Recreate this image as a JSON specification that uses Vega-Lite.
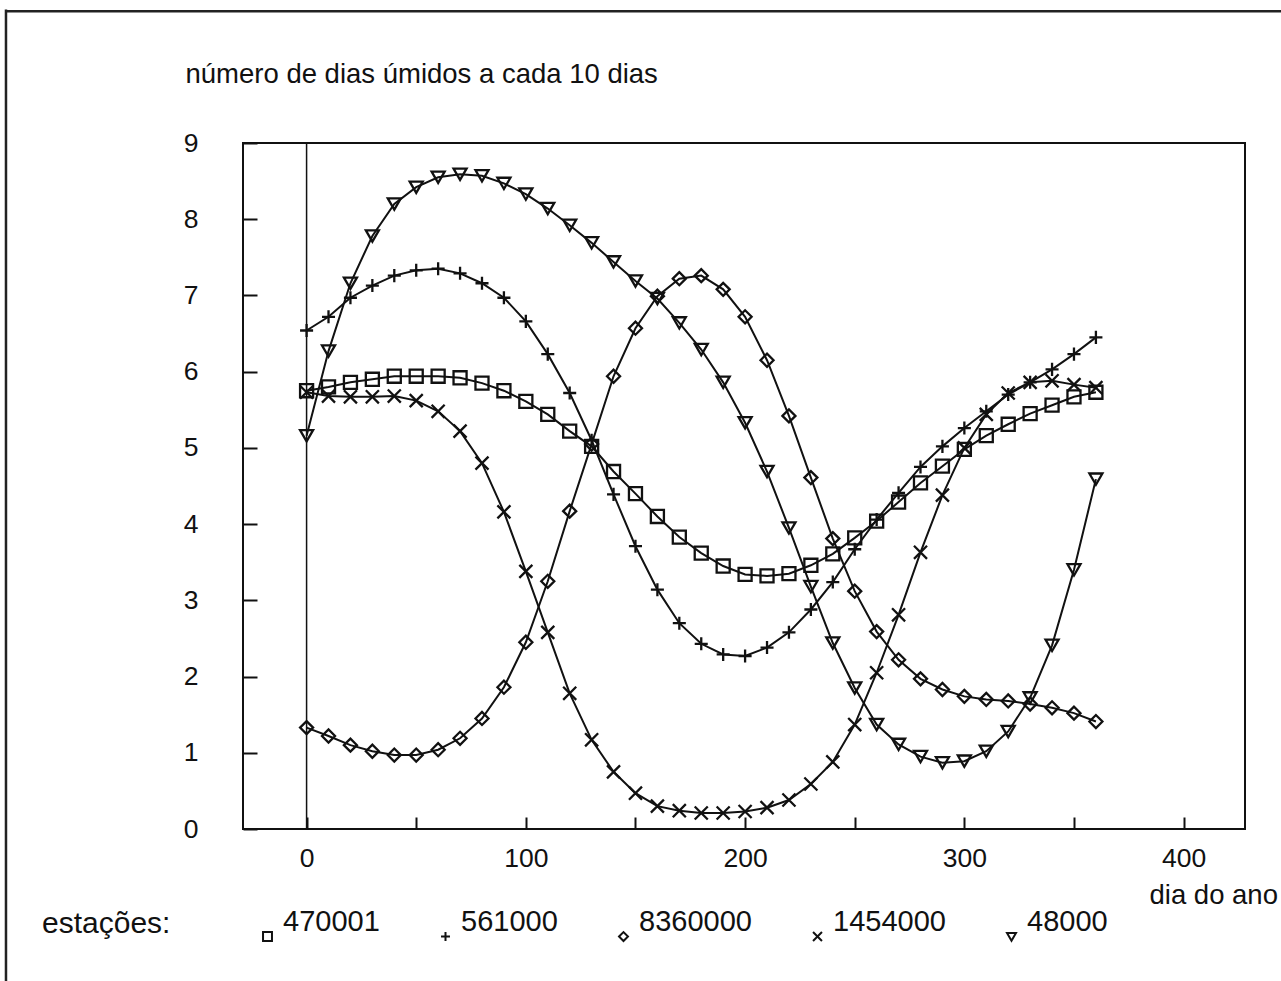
{
  "$schema": "https://vega.github.io/schema/vega-lite/v6.json",
  "width": 1002,
  "height": 686,
  "autosize": {"type": "none"},
  "padding": {"left": 243, "top": 143, "right": 36, "bottom": 152},
  "background": "white",
  "config": {
    "font": "Liberation Sans",
    "view": {"stroke": "#111", "strokeWidth": 2},
    "axis": {
      "labelFont": "Liberation Sans",
      "labelFontSize": 26.5,
      "labelColor": "#111",
      "titleFont": "Liberation Sans",
      "titleFontSize": 27.5,
      "titleFontWeight": "normal",
      "titleColor": "#111",
      "tickColor": "#111",
      "tickWidth": 2,
      "domain": false,
      "grid": false
    },
    "legend": {
      "labelFont": "Liberation Sans",
      "labelFontSize": 29,
      "labelColor": "#111",
      "titleFont": "Liberation Sans",
      "titleFontSize": 30,
      "titleFontWeight": "normal",
      "titleColor": "#111"
    }
  },
  "datasets": {
    "umidos": [
      {"dia": 0, "estacao": "470001", "valor": 5.75}, {"dia": 10, "estacao": "470001", "valor": 5.80}, {"dia": 20, "estacao": "470001", "valor": 5.86}, {"dia": 30, "estacao": "470001", "valor": 5.90}, {"dia": 40, "estacao": "470001", "valor": 5.94}, {"dia": 50, "estacao": "470001", "valor": 5.94}, {"dia": 60, "estacao": "470001", "valor": 5.94}, {"dia": 70, "estacao": "470001", "valor": 5.92}, {"dia": 80, "estacao": "470001", "valor": 5.85}, {"dia": 90, "estacao": "470001", "valor": 5.75}, {"dia": 100, "estacao": "470001", "valor": 5.61}, {"dia": 110, "estacao": "470001", "valor": 5.44}, {"dia": 120, "estacao": "470001", "valor": 5.22}, {"dia": 130, "estacao": "470001", "valor": 5.02}, {"dia": 140, "estacao": "470001", "valor": 4.69}, {"dia": 150, "estacao": "470001", "valor": 4.40}, {"dia": 160, "estacao": "470001", "valor": 4.10}, {"dia": 170, "estacao": "470001", "valor": 3.83}, {"dia": 180, "estacao": "470001", "valor": 3.62}, {"dia": 190, "estacao": "470001", "valor": 3.45}, {"dia": 200, "estacao": "470001", "valor": 3.34}, {"dia": 210, "estacao": "470001", "valor": 3.32}, {"dia": 220, "estacao": "470001", "valor": 3.35}, {"dia": 230, "estacao": "470001", "valor": 3.46}, {"dia": 240, "estacao": "470001", "valor": 3.61}, {"dia": 250, "estacao": "470001", "valor": 3.82}, {"dia": 260, "estacao": "470001", "valor": 4.04}, {"dia": 270, "estacao": "470001", "valor": 4.29}, {"dia": 280, "estacao": "470001", "valor": 4.54}, {"dia": 290, "estacao": "470001", "valor": 4.76}, {"dia": 300, "estacao": "470001", "valor": 4.98}, {"dia": 310, "estacao": "470001", "valor": 5.16}, {"dia": 320, "estacao": "470001", "valor": 5.31}, {"dia": 330, "estacao": "470001", "valor": 5.45}, {"dia": 340, "estacao": "470001", "valor": 5.56}, {"dia": 350, "estacao": "470001", "valor": 5.67}, {"dia": 360, "estacao": "470001", "valor": 5.73},
      {"dia": 0, "estacao": "561000", "valor": 6.54}, {"dia": 10, "estacao": "561000", "valor": 6.72}, {"dia": 20, "estacao": "561000", "valor": 6.97}, {"dia": 30, "estacao": "561000", "valor": 7.13}, {"dia": 40, "estacao": "561000", "valor": 7.26}, {"dia": 50, "estacao": "561000", "valor": 7.33}, {"dia": 60, "estacao": "561000", "valor": 7.35}, {"dia": 70, "estacao": "561000", "valor": 7.29}, {"dia": 80, "estacao": "561000", "valor": 7.16}, {"dia": 90, "estacao": "561000", "valor": 6.97}, {"dia": 100, "estacao": "561000", "valor": 6.66}, {"dia": 110, "estacao": "561000", "valor": 6.23}, {"dia": 120, "estacao": "561000", "valor": 5.72}, {"dia": 130, "estacao": "561000", "valor": 5.10}, {"dia": 140, "estacao": "561000", "valor": 4.39}, {"dia": 150, "estacao": "561000", "valor": 3.71}, {"dia": 160, "estacao": "561000", "valor": 3.14}, {"dia": 170, "estacao": "561000", "valor": 2.70}, {"dia": 180, "estacao": "561000", "valor": 2.43}, {"dia": 190, "estacao": "561000", "valor": 2.29}, {"dia": 200, "estacao": "561000", "valor": 2.27}, {"dia": 210, "estacao": "561000", "valor": 2.38}, {"dia": 220, "estacao": "561000", "valor": 2.58}, {"dia": 230, "estacao": "561000", "valor": 2.88}, {"dia": 240, "estacao": "561000", "valor": 3.24}, {"dia": 250, "estacao": "561000", "valor": 3.67}, {"dia": 260, "estacao": "561000", "valor": 4.06}, {"dia": 270, "estacao": "561000", "valor": 4.41}, {"dia": 280, "estacao": "561000", "valor": 4.75}, {"dia": 290, "estacao": "561000", "valor": 5.02}, {"dia": 300, "estacao": "561000", "valor": 5.26}, {"dia": 310, "estacao": "561000", "valor": 5.48}, {"dia": 320, "estacao": "561000", "valor": 5.70}, {"dia": 330, "estacao": "561000", "valor": 5.86}, {"dia": 340, "estacao": "561000", "valor": 6.03}, {"dia": 350, "estacao": "561000", "valor": 6.23}, {"dia": 360, "estacao": "561000", "valor": 6.45},
      {"dia": 0, "estacao": "8360000", "valor": 1.33}, {"dia": 10, "estacao": "8360000", "valor": 1.22}, {"dia": 20, "estacao": "8360000", "valor": 1.10}, {"dia": 30, "estacao": "8360000", "valor": 1.02}, {"dia": 40, "estacao": "8360000", "valor": 0.97}, {"dia": 50, "estacao": "8360000", "valor": 0.97}, {"dia": 60, "estacao": "8360000", "valor": 1.04}, {"dia": 70, "estacao": "8360000", "valor": 1.19}, {"dia": 80, "estacao": "8360000", "valor": 1.45}, {"dia": 90, "estacao": "8360000", "valor": 1.86}, {"dia": 100, "estacao": "8360000", "valor": 2.45}, {"dia": 110, "estacao": "8360000", "valor": 3.25}, {"dia": 120, "estacao": "8360000", "valor": 4.17}, {"dia": 130, "estacao": "8360000", "valor": 5.05}, {"dia": 140, "estacao": "8360000", "valor": 5.94}, {"dia": 150, "estacao": "8360000", "valor": 6.57}, {"dia": 160, "estacao": "8360000", "valor": 6.99}, {"dia": 170, "estacao": "8360000", "valor": 7.22}, {"dia": 180, "estacao": "8360000", "valor": 7.26}, {"dia": 190, "estacao": "8360000", "valor": 7.08}, {"dia": 200, "estacao": "8360000", "valor": 6.72}, {"dia": 210, "estacao": "8360000", "valor": 6.15}, {"dia": 220, "estacao": "8360000", "valor": 5.42}, {"dia": 230, "estacao": "8360000", "valor": 4.61}, {"dia": 240, "estacao": "8360000", "valor": 3.81}, {"dia": 250, "estacao": "8360000", "valor": 3.12}, {"dia": 260, "estacao": "8360000", "valor": 2.59}, {"dia": 270, "estacao": "8360000", "valor": 2.22}, {"dia": 280, "estacao": "8360000", "valor": 1.97}, {"dia": 290, "estacao": "8360000", "valor": 1.83}, {"dia": 300, "estacao": "8360000", "valor": 1.74}, {"dia": 310, "estacao": "8360000", "valor": 1.70}, {"dia": 320, "estacao": "8360000", "valor": 1.68}, {"dia": 330, "estacao": "8360000", "valor": 1.64}, {"dia": 340, "estacao": "8360000", "valor": 1.59}, {"dia": 350, "estacao": "8360000", "valor": 1.52}, {"dia": 360, "estacao": "8360000", "valor": 1.41},
      {"dia": 0, "estacao": "1454000", "valor": 5.73}, {"dia": 10, "estacao": "1454000", "valor": 5.68}, {"dia": 20, "estacao": "1454000", "valor": 5.67}, {"dia": 30, "estacao": "1454000", "valor": 5.67}, {"dia": 40, "estacao": "1454000", "valor": 5.68}, {"dia": 50, "estacao": "1454000", "valor": 5.62}, {"dia": 60, "estacao": "1454000", "valor": 5.48}, {"dia": 70, "estacao": "1454000", "valor": 5.22}, {"dia": 80, "estacao": "1454000", "valor": 4.80}, {"dia": 90, "estacao": "1454000", "valor": 4.16}, {"dia": 100, "estacao": "1454000", "valor": 3.38}, {"dia": 110, "estacao": "1454000", "valor": 2.58}, {"dia": 120, "estacao": "1454000", "valor": 1.78}, {"dia": 130, "estacao": "1454000", "valor": 1.17}, {"dia": 140, "estacao": "1454000", "valor": 0.75}, {"dia": 150, "estacao": "1454000", "valor": 0.47}, {"dia": 160, "estacao": "1454000", "valor": 0.30}, {"dia": 170, "estacao": "1454000", "valor": 0.24}, {"dia": 180, "estacao": "1454000", "valor": 0.21}, {"dia": 190, "estacao": "1454000", "valor": 0.21}, {"dia": 200, "estacao": "1454000", "valor": 0.23}, {"dia": 210, "estacao": "1454000", "valor": 0.28}, {"dia": 220, "estacao": "1454000", "valor": 0.38}, {"dia": 230, "estacao": "1454000", "valor": 0.59}, {"dia": 240, "estacao": "1454000", "valor": 0.88}, {"dia": 250, "estacao": "1454000", "valor": 1.37}, {"dia": 260, "estacao": "1454000", "valor": 2.05}, {"dia": 270, "estacao": "1454000", "valor": 2.81}, {"dia": 280, "estacao": "1454000", "valor": 3.63}, {"dia": 290, "estacao": "1454000", "valor": 4.38}, {"dia": 300, "estacao": "1454000", "valor": 5.00}, {"dia": 310, "estacao": "1454000", "valor": 5.44}, {"dia": 320, "estacao": "1454000", "valor": 5.72}, {"dia": 330, "estacao": "1454000", "valor": 5.86}, {"dia": 340, "estacao": "1454000", "valor": 5.88}, {"dia": 350, "estacao": "1454000", "valor": 5.83}, {"dia": 360, "estacao": "1454000", "valor": 5.79},
      {"dia": 0, "estacao": "48000", "valor": 5.16}, {"dia": 10, "estacao": "48000", "valor": 6.27}, {"dia": 20, "estacao": "48000", "valor": 7.16}, {"dia": 30, "estacao": "48000", "valor": 7.78}, {"dia": 40, "estacao": "48000", "valor": 8.20}, {"dia": 50, "estacao": "48000", "valor": 8.42}, {"dia": 60, "estacao": "48000", "valor": 8.55}, {"dia": 70, "estacao": "48000", "valor": 8.59}, {"dia": 80, "estacao": "48000", "valor": 8.57}, {"dia": 90, "estacao": "48000", "valor": 8.47}, {"dia": 100, "estacao": "48000", "valor": 8.33}, {"dia": 110, "estacao": "48000", "valor": 8.14}, {"dia": 120, "estacao": "48000", "valor": 7.92}, {"dia": 130, "estacao": "48000", "valor": 7.69}, {"dia": 140, "estacao": "48000", "valor": 7.44}, {"dia": 150, "estacao": "48000", "valor": 7.19}, {"dia": 160, "estacao": "48000", "valor": 6.96}, {"dia": 170, "estacao": "48000", "valor": 6.64}, {"dia": 180, "estacao": "48000", "valor": 6.29}, {"dia": 190, "estacao": "48000", "valor": 5.86}, {"dia": 200, "estacao": "48000", "valor": 5.33}, {"dia": 210, "estacao": "48000", "valor": 4.69}, {"dia": 220, "estacao": "48000", "valor": 3.95}, {"dia": 230, "estacao": "48000", "valor": 3.18}, {"dia": 240, "estacao": "48000", "valor": 2.44}, {"dia": 250, "estacao": "48000", "valor": 1.85}, {"dia": 260, "estacao": "48000", "valor": 1.37}, {"dia": 270, "estacao": "48000", "valor": 1.11}, {"dia": 280, "estacao": "48000", "valor": 0.95}, {"dia": 290, "estacao": "48000", "valor": 0.87}, {"dia": 300, "estacao": "48000", "valor": 0.89}, {"dia": 310, "estacao": "48000", "valor": 1.02}, {"dia": 320, "estacao": "48000", "valor": 1.28}, {"dia": 330, "estacao": "48000", "valor": 1.72}, {"dia": 340, "estacao": "48000", "valor": 2.41}, {"dia": 350, "estacao": "48000", "valor": 3.40}, {"dia": 360, "estacao": "48000", "valor": 4.59}
    ]
  },
  "layer": [
    {
      "description": "outer figure border, top edge",
      "data": {"values": [{}]},
      "mark": {"type": "rule", "stroke": "#222", "strokeWidth": 2.5},
      "encoding": {
        "x": {"datum": -137.1, "type": "quantitative", "scale": {"domain": [-29, 428], "nice": false, "zero": false}},
        "x2": {"datum": 450},
        "y": {"datum": 10.73, "type": "quantitative", "scale": {"domain": [0, 9], "nice": false, "zero": false}}
      }
    },
    {
      "description": "outer figure border, left edge",
      "data": {"values": [{}]},
      "mark": {"type": "rule", "stroke": "#222", "strokeWidth": 2.5},
      "encoding": {
        "x": {"datum": -137.1, "type": "quantitative", "scale": {"domain": [-29, 428], "nice": false, "zero": false}},
        "y": {"datum": 10.75, "type": "quantitative", "scale": {"domain": [0, 9], "nice": false, "zero": false}},
        "y2": {"datum": -2.3}
      }
    },
    {
      "description": "vertical reference line at day 0",
      "data": {"values": [{}]},
      "mark": {"type": "rule", "stroke": "#111", "strokeWidth": 1.5},
      "encoding": {
        "x": {"datum": 0, "type": "quantitative", "scale": {"domain": [-29, 428], "nice": false, "zero": false}}
      }
    },
    {
      "data": {"name": "umidos"},
      "mark": {"type": "line", "stroke": "#111", "strokeWidth": 2},
      "encoding": {
        "x": {
          "field": "dia", "type": "quantitative",
          "scale": {"domain": [-29, 428], "nice": false, "zero": false},
          "axis": {
            "values": [0, 50, 100, 150, 200, 250, 300, 350, 400],
            "labelExpr": "datum.value % 100 === 0 ? datum.label : ''",
            "tickSize": -12,
            "labelPadding": 28,
            "title": "dia do ano",
            "titleX": 906, "titleY": 66,
            "titleAlign": "left", "titleBaseline": "middle"
          }
        },
        "y": {
          "field": "valor", "type": "quantitative",
          "scale": {"domain": [0, 9], "nice": false, "zero": false},
          "axis": {
            "values": [0, 1, 2, 3, 4, 5, 6, 7, 8, 9],
            "format": "d",
            "tickSize": -14,
            "labelPadding": 59,
            "title": "número de dias úmidos a cada 10 dias",
            "titleAngle": 0,
            "titleX": -58, "titleY": -69,
            "titleAlign": "left", "titleBaseline": "middle"
          }
        },
        "detail": {"field": "estacao"}
      }
    },
    {
      "data": {"name": "umidos"},
      "mark": {"type": "point", "filled": false, "stroke": "#111", "strokeWidth": 2.3, "size": 170, "opacity": 1},
      "encoding": {
        "x": {"field": "dia", "type": "quantitative", "scale": {"domain": [-29, 428], "nice": false, "zero": false}},
        "y": {"field": "valor", "type": "quantitative", "scale": {"domain": [0, 9], "nice": false, "zero": false}},
        "shape": {
          "field": "estacao", "type": "nominal",
          "scale": {
            "domain": ["470001", "561000", "8360000", "1454000", "48000"],
            "range": ["square", "M-1,0L1,0M0,-1L0,1", "diamond", "M-1,-1L1,1M-1,1L1,-1", "triangle-down"]
          },
          "legend": {
            "orient": "none",
            "legendX": -201,
            "legendY": 779,
            "direction": "horizontal",
            "columns": 5,
            "title": "estações:",
            "titleOrient": "left",
            "titleBaseline": "alphabetic",
            "titlePadding": 82,
            "symbolSize": 80,
            "symbolStrokeWidth": 2,
            "symbolStrokeColor": "#111",
            "symbolFillColor": "transparent",
            "labelOffset": 1,
            "labelBaseline": "bottom",
            "columnPadding": 51
          }
        }
      }
    }
  ]
}
